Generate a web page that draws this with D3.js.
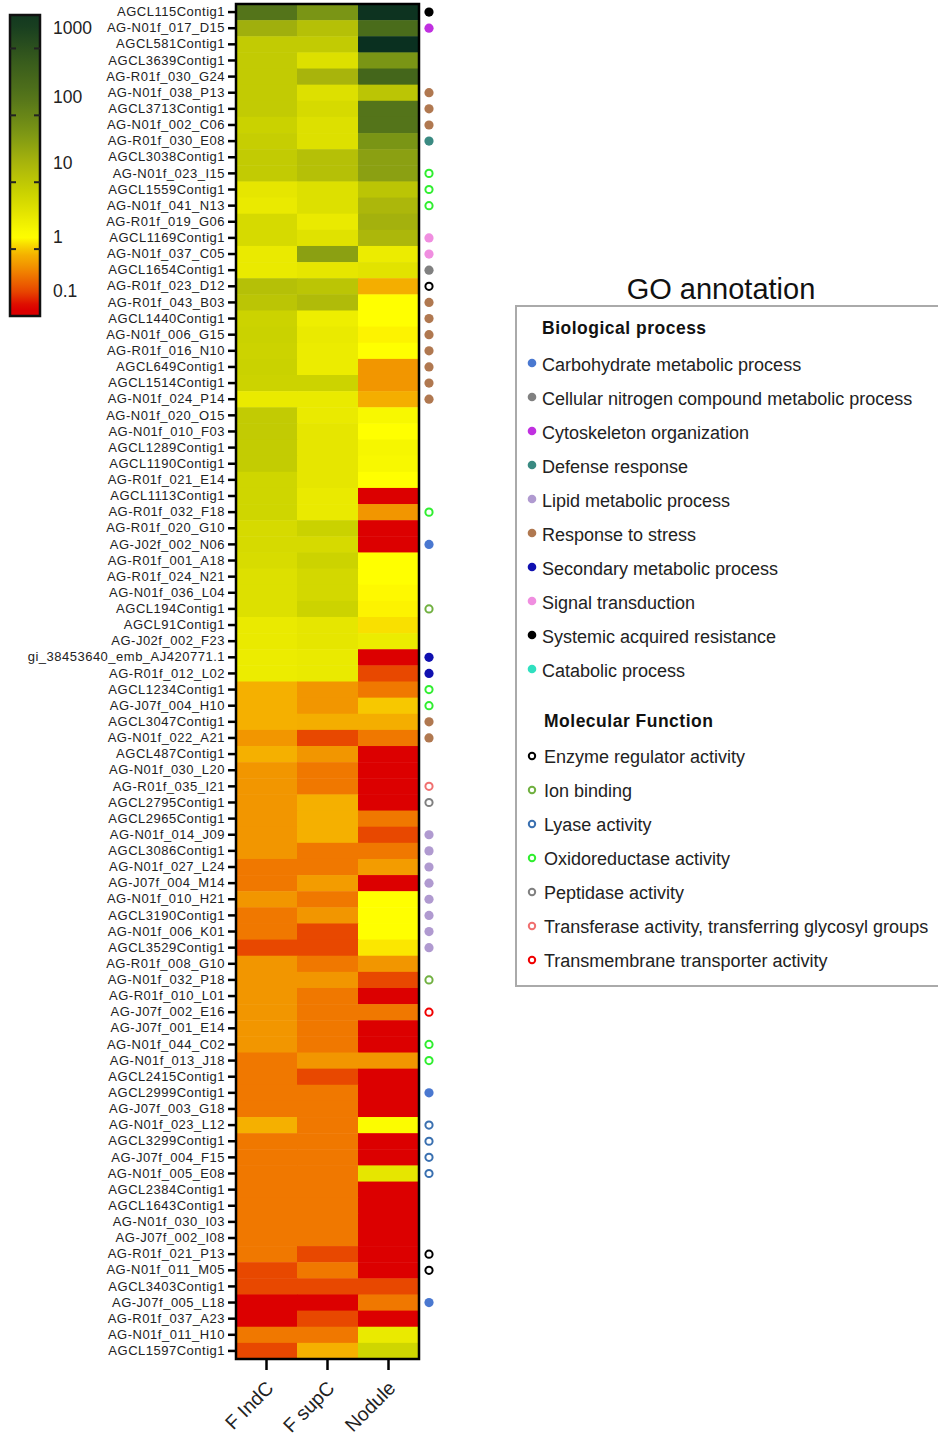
<!DOCTYPE html>
<html>
<head>
<meta charset="utf-8">
<script src="https://cdn.jsdelivr.net/npm/d3@7"></script>
<style>
  body { margin: 0; background: #fff; }
  svg { display: block; font-family: "Liberation Sans", Arial, sans-serif; }
</style>
</head>
<body>
<script>
// Heatmap rows (top to bottom)
var genes = [
  'AGCL115Contig1', 'AG-N01f_017_D15', 'AGCL581Contig1', 'AGCL3639Contig1', 'AG-R01f_030_G24',
  'AG-N01f_038_P13', 'AGCL3713Contig1', 'AG-N01f_002_C06', 'AG-R01f_030_E08', 'AGCL3038Contig1',
  'AG-N01f_023_I15', 'AGCL1559Contig1', 'AG-N01f_041_N13', 'AG-R01f_019_G06', 'AGCL1169Contig1',
  'AG-N01f_037_C05', 'AGCL1654Contig1', 'AG-R01f_023_D12', 'AG-R01f_043_B03', 'AGCL1440Contig1',
  'AG-N01f_006_G15', 'AG-R01f_016_N10', 'AGCL649Contig1', 'AGCL1514Contig1', 'AG-N01f_024_P14',
  'AG-N01f_020_O15', 'AG-N01f_010_F03', 'AGCL1289Contig1', 'AGCL1190Contig1', 'AG-R01f_021_E14',
  'AGCL1113Contig1', 'AG-R01f_032_F18', 'AG-R01f_020_G10', 'AG-J02f_002_N06', 'AG-R01f_001_A18',
  'AG-R01f_024_N21', 'AG-N01f_036_L04', 'AGCL194Contig1', 'AGCL91Contig1', 'AG-J02f_002_F23',
  'gi_38453640_emb_AJ420771.1', 'AG-R01f_012_L02', 'AGCL1234Contig1', 'AG-J07f_004_H10', 'AGCL3047Contig1',
  'AG-N01f_022_A21', 'AGCL487Contig1', 'AG-N01f_030_L20', 'AG-R01f_035_I21', 'AGCL2795Contig1',
  'AGCL2965Contig1', 'AG-N01f_014_J09', 'AGCL3086Contig1', 'AG-N01f_027_L24', 'AG-J07f_004_M14',
  'AG-N01f_010_H21', 'AGCL3190Contig1', 'AG-N01f_006_K01', 'AGCL3529Contig1', 'AG-R01f_008_G10',
  'AG-N01f_032_P18', 'AG-R01f_010_L01', 'AG-J07f_002_E16', 'AG-J07f_001_E14', 'AG-N01f_044_C02',
  'AG-N01f_013_J18', 'AGCL2415Contig1', 'AGCL2999Contig1', 'AG-J07f_003_G18', 'AG-N01f_023_L12',
  'AGCL3299Contig1', 'AG-J07f_004_F15', 'AG-N01f_005_E08', 'AGCL2384Contig1', 'AGCL1643Contig1',
  'AG-N01f_030_I03', 'AG-J07f_002_I08', 'AG-R01f_021_P13', 'AG-N01f_011_M05', 'AGCL3403Contig1',
  'AG-J07f_005_L18', 'AG-R01f_037_A23', 'AG-N01f_011_H10', 'AGCL1597Contig1'
];

var conditions = ['F IndC', 'F supC', 'Nodule'];

// expression ratios, one per gene
var indC = [
  100, 12, 5, 5, 5, 5, 5, 4, 4.5, 5,
  5, 2, 1.8, 3, 3, 1.8, 1.8, 7, 6, 3.8,
  4, 3.8, 4, 3.8, 1.8, 5, 5, 4.8, 4.8, 3.5,
  3.5, 3.5, 3, 3, 2.8, 2.5, 2.5, 2.5, 1.8, 1.8,
  1.7, 1.7, 0.47, 0.47, 0.47, 0.3, 0.47, 0.3, 0.3, 0.3,
  0.3, 0.3, 0.3, 0.2, 0.2, 0.3, 0.2, 0.2, 0.1, 0.3,
  0.3, 0.3, 0.3, 0.3, 0.3, 0.2, 0.2, 0.2, 0.2, 0.47,
  0.2, 0.2, 0.2, 0.2, 0.2, 0.2, 0.2, 0.2, 0.1, 0.1,
  0.04, 0.04, 0.2, 0.1
];
var supC = [
  30, 7, 5, 2.5, 10, 2.5, 3, 2.5, 2.5, 7,
  7, 2.5, 2.5, 1.8, 2.3, 20, 2, 6, 8, 1.6,
  1.8, 1.7, 1.7, 3.8, 1.8, 1.8, 2, 2, 2, 2,
  1.8, 1.8, 4, 3, 3.8, 3.2, 3.2, 3.8, 2, 2,
  1.8, 1.8, 0.3, 0.3, 0.45, 0.1, 0.3, 0.2, 0.2, 0.47,
  0.47, 0.47, 0.2, 0.2, 0.33, 0.2, 0.3, 0.1, 0.1, 0.2,
  0.3, 0.2, 0.2, 0.2, 0.2, 0.3, 0.1, 0.2, 0.2, 0.2,
  0.2, 0.2, 0.2, 0.2, 0.2, 0.2, 0.2, 0.1, 0.2, 0.1,
  0.04, 0.1, 0.2, 0.47
];
var nodule = [
  2500, 150, 3000, 30, 200, 6, 100, 100, 30, 20,
  20, 6, 9, 11, 9, 1.7, 2.2, 0.45, 1, 1,
  0.9, 1, 0.3, 0.3, 0.45, 1.2, 1, 1.3, 1.2, 1,
  0.04, 0.3, 0.04, 0.04, 1, 1, 0.95, 0.9, 0.75, 1.7,
  0.04, 0.1, 0.2, 0.6, 0.45, 0.2, 0.04, 0.035, 0.04, 0.035,
  0.2, 0.1, 0.2, 0.33, 0.04, 1, 1, 1, 0.8, 0.3,
  0.1, 0.035, 0.2, 0.04, 0.04, 0.3, 0.035, 0.035, 0.035, 1.1,
  0.04, 0.04, 2, 0.035, 0.035, 0.035, 0.04, 0.035, 0.035, 0.1,
  0.2, 0.035, 1.8, 3.5
];

// colour bar
var scaleValues = [0.035, 0.05, 0.1, 0.2, 0.3, 0.5, 0.7, 1, 2, 4, 10, 30, 100, 300, 1000, 3000];
var scaleColors = ['#dc0000', '#dc0000', '#e84800', '#f07800', '#f29600', '#f5b400', '#f8d800', '#ffff00',
  '#e6e600', '#cad200', '#a8b40c', '#7a9515', '#54741a', '#3a5e1c', '#1a4020', '#0a3020'];
var barLabels = [1000, 100, 10, 1, 0.1];

// GO annotation legend
var bioTerms = ['Carbohydrate metabolic process', 'Cellular nitrogen compound metabolic process',
  'Cytoskeleton organization', 'Defense response', 'Lipid metabolic process', 'Response to stress',
  'Secondary metabolic process', 'Signal transduction', 'Systemic acquired resistance', 'Catabolic process'];
var bioColors = ['#4a78d0', '#808080', '#c030e0', '#3a8a82', '#b09ad0', '#b07850',
  '#1010b0', '#f08ee0', '#000000', '#30e0c0'];
var mfTerms = ['Enzyme regulator activity', 'Ion binding', 'Lyase activity', 'Oxidoreductase activity',
  'Peptidase activity', 'Transferase activity, transferring glycosyl groups', 'Transmembrane transporter activity'];
var mfColors = ['#000000', '#70b040', '#3a70b0', '#30ee30', '#808080', '#f07070', '#f00000'];

// gene -> GO term
var annotations = [
  ['AGCL115Contig1', 'Systemic acquired resistance'],
  ['AG-N01f_017_D15', 'Cytoskeleton organization'],
  ['AG-N01f_038_P13', 'Response to stress'],
  ['AGCL3713Contig1', 'Response to stress'],
  ['AG-N01f_002_C06', 'Response to stress'],
  ['AG-R01f_030_E08', 'Defense response'],
  ['AG-N01f_023_I15', 'Oxidoreductase activity'],
  ['AGCL1559Contig1', 'Oxidoreductase activity'],
  ['AG-N01f_041_N13', 'Oxidoreductase activity'],
  ['AGCL1169Contig1', 'Signal transduction'],
  ['AG-N01f_037_C05', 'Signal transduction'],
  ['AGCL1654Contig1', 'Cellular nitrogen compound metabolic process'],
  ['AG-R01f_023_D12', 'Enzyme regulator activity'],
  ['AG-R01f_043_B03', 'Response to stress'],
  ['AGCL1440Contig1', 'Response to stress'],
  ['AG-N01f_006_G15', 'Response to stress'],
  ['AG-R01f_016_N10', 'Response to stress'],
  ['AGCL649Contig1', 'Response to stress'],
  ['AGCL1514Contig1', 'Response to stress'],
  ['AG-N01f_024_P14', 'Response to stress'],
  ['AG-R01f_032_F18', 'Oxidoreductase activity'],
  ['AG-J02f_002_N06', 'Carbohydrate metabolic process'],
  ['AGCL194Contig1', 'Ion binding'],
  ['gi_38453640_emb_AJ420771.1', 'Secondary metabolic process'],
  ['AG-R01f_012_L02', 'Secondary metabolic process'],
  ['AGCL1234Contig1', 'Oxidoreductase activity'],
  ['AG-J07f_004_H10', 'Oxidoreductase activity'],
  ['AGCL3047Contig1', 'Response to stress'],
  ['AG-N01f_022_A21', 'Response to stress'],
  ['AG-R01f_035_I21', 'Transferase activity, transferring glycosyl groups'],
  ['AGCL2795Contig1', 'Peptidase activity'],
  ['AG-N01f_014_J09', 'Lipid metabolic process'],
  ['AGCL3086Contig1', 'Lipid metabolic process'],
  ['AG-N01f_027_L24', 'Lipid metabolic process'],
  ['AG-J07f_004_M14', 'Lipid metabolic process'],
  ['AG-N01f_010_H21', 'Lipid metabolic process'],
  ['AGCL3190Contig1', 'Lipid metabolic process'],
  ['AG-N01f_006_K01', 'Lipid metabolic process'],
  ['AGCL3529Contig1', 'Lipid metabolic process'],
  ['AG-N01f_032_P18', 'Ion binding'],
  ['AG-J07f_002_E16', 'Transmembrane transporter activity'],
  ['AG-N01f_044_C02', 'Oxidoreductase activity'],
  ['AG-N01f_013_J18', 'Oxidoreductase activity'],
  ['AGCL2999Contig1', 'Carbohydrate metabolic process'],
  ['AG-N01f_023_L12', 'Lyase activity'],
  ['AGCL3299Contig1', 'Lyase activity'],
  ['AG-J07f_004_F15', 'Lyase activity'],
  ['AG-N01f_005_E08', 'Lyase activity'],
  ['AG-R01f_021_P13', 'Enzyme regulator activity'],
  ['AG-N01f_011_M05', 'Enzyme regulator activity'],
  ['AG-J07f_005_L18', 'Carbohydrate metabolic process']
];

(function() {
  'use strict';

  var W = 938, H = 1440;
  var svg = d3.select('body').append('svg')
    .attr('width', W)
    .attr('height', H);

  var color = d3.scaleLog()
    .domain(scaleValues)
    .range(scaleColors)
    .interpolate(d3.interpolateRgb)
    .clamp(true);

  var series = [indC, supC, nodule];
  var cells = [];
  genes.forEach(function(g, i) {
    conditions.forEach(function(c, j) {
      cells.push({gene: g, cond: c, value: series[j][i]});
    });
  });

  function drawHeatmap() {
    var x = d3.scaleBand().domain(conditions).range([236, 419]);
    var y = d3.scaleBand().domain(genes).range([4, 1359]);

    var g = svg.append('g');

    g.selectAll('rect.cell')
      .data(cells)
      .enter()
      .append('rect')
      .attr('class', 'cell')
      .attr('x', function(d) { return x(d.cond); })
      .attr('y', function(d) { return y(d.gene); })
      .attr('width', x.bandwidth() + 0.5)
      .attr('height', y.bandwidth() + 0.5)
      .attr('fill', function(d) { return color(d.value); });

    g.append('rect')
      .attr('x', 236).attr('y', 4)
      .attr('width', 183).attr('height', 1355)
      .attr('fill', 'none')
      .attr('stroke', '#000')
      .attr('stroke-width', 2.5);

    // gene labels
    var yAxis = g.append('g')
      .attr('transform', 'translate(236,0)')
      .call(d3.axisLeft(y).tickSize(8).tickPadding(3));
    yAxis.select('.domain').remove();
    yAxis.selectAll('.tick line').attr('stroke', '#000').attr('stroke-width', 2.5);
    yAxis.selectAll('.tick text')
      .attr('fill', '#222')
      .style('font-size', '13px')
      .style('letter-spacing', '0.5px')
      .style('font-family', '"Liberation Sans", Arial, sans-serif');

    // condition labels
    var xAxis = g.append('g')
      .attr('transform', 'translate(0,1359)')
      .call(d3.axisBottom(x).tickSize(11).tickPadding(4));
    xAxis.select('.domain').remove();
    xAxis.selectAll('.tick line').attr('stroke', '#000').attr('stroke-width', 2.5);
    xAxis.selectAll('.tick text')
      .attr('fill', '#222')
      .style('font-size', '19.5px')
      .style('font-family', '"Liberation Sans", Arial, sans-serif')
      .attr('text-anchor', 'end')
      .attr('dy', '0.7em')
      .attr('transform', 'translate(-12,10) rotate(-45)');

    // GO dots next to rows
    var termColor = {};
    bioTerms.forEach(function(t, i) { termColor[t] = {c: bioColors[i], open: false}; });
    mfTerms.forEach(function(t, i) { termColor[t] = {c: mfColors[i], open: true}; });

    g.selectAll('circle.go')
      .data(annotations)
      .enter()
      .append('circle')
      .attr('class', 'go')
      .attr('cx', 429)
      .attr('cy', function(d) { return y(d[0]) + y.bandwidth() / 2; })
      .attr('r', function(d) { return termColor[d[1]].open ? 3.6 : 4.6; })
      .attr('fill', function(d) { return termColor[d[1]].open ? '#fff' : termColor[d[1]].c; })
      .attr('stroke', function(d) { return termColor[d[1]].open ? termColor[d[1]].c : 'none'; })
      .attr('stroke-width', 2);
  }

  function drawColorBar() {
    var top = 15, bottom = 316;
    var barY = d3.scaleLog()
      .domain([0.035, 0.1, 1, 10, 100, 1000, 1600])
      .range([bottom, 291, 237, 163, 97, 28, top]);

    var grad = svg.append('defs').append('linearGradient')
      .attr('id', 'barGrad')
      .attr('x1', 0).attr('y1', 0).attr('x2', 0).attr('y2', 1);
    d3.range(0, 1.0001, 0.02).forEach(function(t) {
      var v = barY.invert(top + t * (bottom - top));
      grad.append('stop')
        .attr('offset', t)
        .attr('stop-color', color(v));
    });

    svg.append('rect')
      .attr('x', 10).attr('y', top)
      .attr('width', 30).attr('height', bottom - top)
      .attr('fill', 'url(#barGrad)')
      .attr('stroke', '#111')
      .attr('stroke-width', 2.5);

    // small marks on both edges of the bar
    var frac = d3.scaleLinear().domain([0, 9]).range([top, bottom]);
    [1, 3, 5, 7].forEach(function(k) {
      svg.append('line')
        .attr('x1', 10).attr('x2', 16)
        .attr('y1', frac(k)).attr('y2', frac(k))
        .attr('stroke', '#222').attr('stroke-width', 2);
      svg.append('line')
        .attr('x1', 34).attr('x2', 40)
        .attr('y1', frac(k)).attr('y2', frac(k))
        .attr('stroke', '#222').attr('stroke-width', 2);
    });

    svg.selectAll('text.barlab')
      .data(barLabels)
      .enter()
      .append('text')
      .attr('class', 'barlab')
      .attr('x', 53)
      .attr('y', function(d) { return barY(d); })
      .attr('dy', '0.35em')
      .attr('fill', '#222')
      .style('font-size', '17.5px')
      .text(function(d) { return d; });
  }

  function drawLegend() {
    svg.append('text')
      .attr('x', 721).attr('y', 299)
      .attr('text-anchor', 'middle')
      .attr('fill', '#111')
      .style('font-size', '29px')
      .text('GO annotation');

    svg.append('rect')
      .attr('x', 516).attr('y', 306)
      .attr('width', 440).attr('height', 680)
      .attr('fill', '#fff')
      .attr('stroke', '#aaa')
      .attr('stroke-width', 2);

    svg.append('text')
      .attr('x', 542).attr('y', 328).attr('dy', '0.35em')
      .attr('fill', '#111')
      .style('font-size', '17.5px')
      .style('letter-spacing', '0.5px')
      .style('font-weight', 'bold')
      .text('Biological process');

    var bioY = d3.scaleLinear().domain([0, 1]).range([365, 399]);
    var bio = svg.selectAll('g.bio')
      .data(bioTerms)
      .enter()
      .append('g')
      .attr('class', 'bio')
      .attr('transform', function(d, i) { return 'translate(0,' + bioY(i) + ')'; });
    bio.append('circle')
      .attr('cx', 532).attr('cy', -2).attr('r', 4.3)
      .attr('fill', function(d, i) { return bioColors[i]; });
    bio.append('text')
      .attr('x', 542).attr('dy', '0.35em')
      .attr('fill', '#222')
      .style('font-size', '18px')
      .text(function(d) { return d; });

    svg.append('text')
      .attr('x', 544).attr('y', 721).attr('dy', '0.35em')
      .attr('fill', '#111')
      .style('font-size', '17.5px')
      .style('letter-spacing', '0.5px')
      .style('font-weight', 'bold')
      .text('Molecular Function');

    var mfY = d3.scaleLinear().domain([0, 1]).range([757, 791]);
    var mf = svg.selectAll('g.mf')
      .data(mfTerms)
      .enter()
      .append('g')
      .attr('class', 'mf')
      .attr('transform', function(d, i) { return 'translate(0,' + mfY(i) + ')'; });
    mf.append('circle')
      .attr('cx', 532).attr('cy', -1).attr('r', 3.2)
      .attr('fill', '#fff')
      .attr('stroke', function(d, i) { return mfColors[i]; })
      .attr('stroke-width', 2);
    mf.append('text')
      .attr('x', 544).attr('dy', '0.35em')
      .attr('fill', '#222')
      .style('font-size', '18px')
      .text(function(d) { return d; });
  }

  drawHeatmap();
  drawColorBar();
  drawLegend();
})();
</script>
</body>
</html>
